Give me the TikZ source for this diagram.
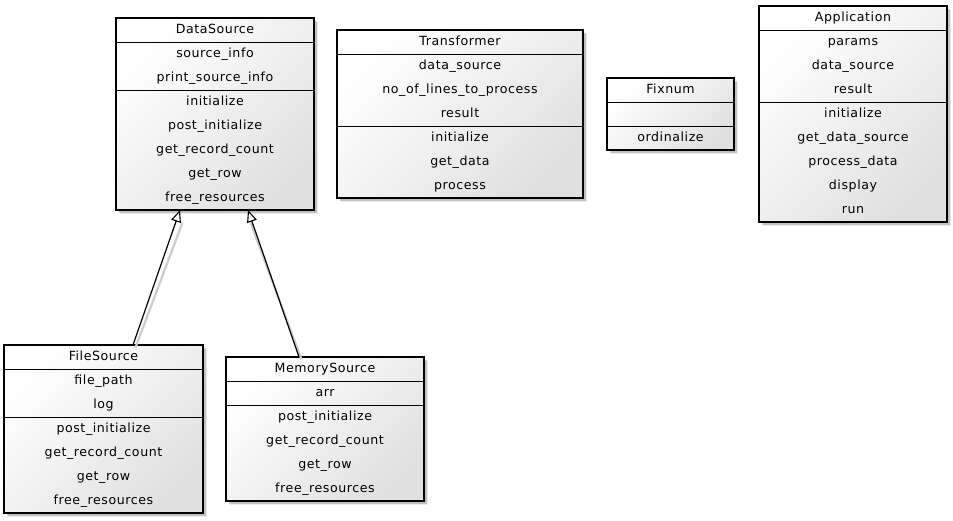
\documentclass[tikz,border=0pt]{standalone}
\usepackage{fontspec}
\setmainfont[LetterSpace=4.5]{DejaVu Sans}
\usetikzlibrary{shadows,arrows.meta}

\tikzset{
  classbox/.style={draw=black, line width=1.2pt, inner sep=0pt, outer sep=0pt,
    drop shadow={shadow xshift=4pt, shadow yshift=-4pt, fill=black, opacity=0.08},
    drop shadow={shadow xshift=2.5pt, shadow yshift=-2.5pt, fill=black, opacity=0.18},
    top color=white, bottom color=black!12, shading angle=45},
  divider/.style={draw=black, line width=1pt},
  member/.style={anchor=base, inner sep=0pt, font=\fontsize{12.6}{14}\selectfont},
  inherit/.style={draw=black, line width=1.2pt,
    -{Triangle[open, length=12pt, width=10pt, line width=1.1pt]}},
  inheritshadow/.style={draw=black!20, line width=2.2pt,
    transform canvas={shift={(2.5pt,-2.5pt)}}},
}

% #1 name, #2 x, #3 y, #4 width, #5 title,
% #6 attribute rows, #7 attributes, #8 method rows, #9 methods
\newcommand\umlclass[9]{%
  \pgfmathsetmacro\clsH{24*(1+#6+#8)}%
  \pgfmathsetmacro\clsA{24*(1+#6)}%
  \node[classbox, anchor=north west, minimum width=#4pt, minimum height=\clsH pt] (#1) at (#2,#3) {};
  \draw[divider] ([yshift=-24pt]#1.north west) -- ([yshift=-24pt]#1.north east);
  \draw[divider] ([yshift=-\clsA pt]#1.north west) -- ([yshift=-\clsA pt]#1.north east);
  \node[member] (#1-title) at ([yshift=-15.3pt]#1.north) {#5};
  \foreach \t [count=\i] in {#7} {
    \node[member] (#1-a\i) at ([yshift=-(3.3+12+24*\i)*1pt]#1.north) {\t};
  }
  \foreach \t [count=\i] in {#9} {
    \node[member] (#1-m\i) at ([yshift=-(3.3+\clsA-12+24*\i)*1pt]#1.north) {\t};
  }
}

\begin{document}
\begin{tikzpicture}[x=1pt, y=-1pt]
  \useasboundingbox (0,0) rectangle (953,520);

  \umlclass{ds}{116}{18}{198}{DataSource}
    {2}{source\_info, print\_source\_info}
    {5}{initialize, post\_initialize, get\_record\_count, get\_row, free\_resources}

  \umlclass{tr}{337}{30}{246}{Transformer}
    {3}{data\_source, no\_of\_lines\_to\_process, result}
    {3}{initialize, get\_data, process}

  \umlclass{fx}{607}{78}{127}{Fixnum}
    {1}{}
    {1}{ordinalize}

  \umlclass{app}{759}{6}{188}{Application}
    {3}{params, data\_source, result}
    {5}{initialize, get\_data\_source, process\_data, display, run}

  \umlclass{fs}{4}{345}{199}{FileSource}
    {2}{file\_path, log}
    {4}{post\_initialize, get\_record\_count, get\_row, free\_resources}

  \umlclass{ms}{226}{357}{198}{MemorySource}
    {1}{arr}
    {4}{post\_initialize, get\_record\_count, get\_row, free\_resources}

  % attachment points of the generalisation arrows
  \coordinate (fs-up) at ([xshift=129pt]fs.north west);
  \coordinate (ms-up) at ([xshift=73pt]ms.north west);
  \coordinate (ds-fs) at ([xshift=64pt]ds.south west);
  \coordinate (ds-ms) at ([xshift=132pt]ds.south west);

  \draw[inheritshadow] (fs-up) -- ([yshift=-10pt]ds-fs);
  \draw[inheritshadow] (ms-up) -- ([yshift=-10pt]ds-ms);
  \draw[inherit] (fs-up) -- (ds-fs);
  \draw[inherit] (ms-up) -- (ds-ms);
\end{tikzpicture}
\end{document}
